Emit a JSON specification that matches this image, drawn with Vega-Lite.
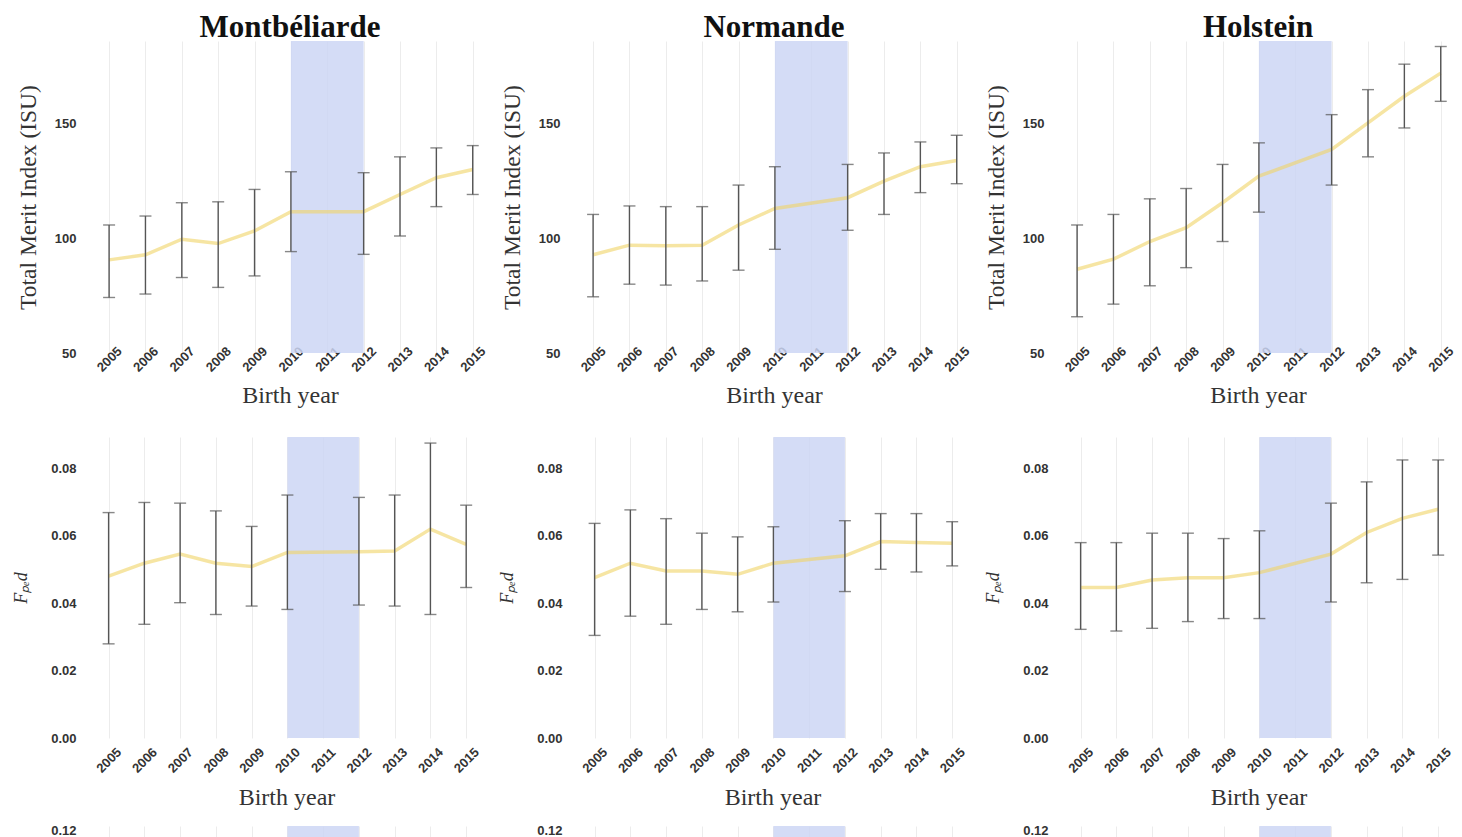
{
  "$schema": "https://vega.github.io/schema/vega-lite/v6.json",
  "background": "white",
  "padding": {"left": 12, "top": 12, "right": 0, "bottom": 0},
  "datasets": {
    "band": [{"year": 2010, "year_end": 2012}],
    "merit": [
      {"breed": "Montbéliarde", "year": 2005, "mean": 90.6, "lower": 74.2, "upper": 105.8},
      {"breed": "Montbéliarde", "year": 2006, "mean": 92.8, "lower": 75.7, "upper": 109.7},
      {"breed": "Montbéliarde", "year": 2007, "mean": 99.6, "lower": 82.9, "upper": 115.5},
      {"breed": "Montbéliarde", "year": 2008, "mean": 97.7, "lower": 78.6, "upper": 115.9},
      {"breed": "Montbéliarde", "year": 2009, "mean": 103.2, "lower": 83.6, "upper": 121.3},
      {"breed": "Montbéliarde", "year": 2010, "mean": 111.6, "lower": 94.2, "upper": 129.0},
      {"breed": "Montbéliarde", "year": 2012, "mean": 111.6, "lower": 93.0, "upper": 128.6},
      {"breed": "Montbéliarde", "year": 2013, "mean": 119.1, "lower": 101.0, "upper": 135.5},
      {"breed": "Montbéliarde", "year": 2014, "mean": 126.4, "lower": 113.8, "upper": 139.4},
      {"breed": "Montbéliarde", "year": 2015, "mean": 130.0, "lower": 119.1, "upper": 140.4},
      {"breed": "Normande", "year": 2005, "mean": 92.8, "lower": 74.5, "upper": 110.4},
      {"breed": "Normande", "year": 2006, "mean": 97.0, "lower": 80.0, "upper": 114.1},
      {"breed": "Normande", "year": 2007, "mean": 96.8, "lower": 79.6, "upper": 113.8},
      {"breed": "Normande", "year": 2008, "mean": 97.0, "lower": 81.4, "upper": 113.8},
      {"breed": "Normande", "year": 2009, "mean": 105.8, "lower": 86.1, "upper": 123.2},
      {"breed": "Normande", "year": 2010, "mean": 113.0, "lower": 95.2, "upper": 131.2},
      {"breed": "Normande", "year": 2012, "mean": 117.7, "lower": 103.5, "upper": 132.2},
      {"breed": "Normande", "year": 2013, "mean": 124.9, "lower": 110.4, "upper": 137.2},
      {"breed": "Normande", "year": 2014, "mean": 131.2, "lower": 119.9, "upper": 142.0},
      {"breed": "Normande", "year": 2015, "mean": 133.9, "lower": 123.8, "upper": 144.9},
      {"breed": "Holstein", "year": 2005, "mean": 86.5, "lower": 65.8, "upper": 105.8},
      {"breed": "Holstein", "year": 2006, "mean": 90.9, "lower": 71.3, "upper": 110.4},
      {"breed": "Holstein", "year": 2007, "mean": 98.6, "lower": 79.3, "upper": 117.2},
      {"breed": "Holstein", "year": 2008, "mean": 104.6, "lower": 87.2, "upper": 121.7},
      {"breed": "Holstein", "year": 2009, "mean": 115.5, "lower": 98.6, "upper": 132.2},
      {"breed": "Holstein", "year": 2010, "mean": 127.1, "lower": 111.4, "upper": 141.6},
      {"breed": "Holstein", "year": 2012, "mean": 138.7, "lower": 123.2, "upper": 153.9},
      {"breed": "Holstein", "year": 2013, "mean": 150.3, "lower": 135.5, "upper": 164.8},
      {"breed": "Holstein", "year": 2014, "mean": 161.9, "lower": 148.1, "upper": 175.9},
      {"breed": "Holstein", "year": 2015, "mean": 172.0, "lower": 159.7, "upper": 183.6}
    ],
    "fped": [
      {"breed": "Montbéliarde", "year": 2005, "mean": 0.048, "lower": 0.0279, "upper": 0.0668},
      {"breed": "Montbéliarde", "year": 2006, "mean": 0.0518, "lower": 0.0337, "upper": 0.0698},
      {"breed": "Montbéliarde", "year": 2007, "mean": 0.0545, "lower": 0.0401, "upper": 0.0696},
      {"breed": "Montbéliarde", "year": 2008, "mean": 0.0518, "lower": 0.0366, "upper": 0.0673},
      {"breed": "Montbéliarde", "year": 2009, "mean": 0.0508, "lower": 0.0391, "upper": 0.0627},
      {"breed": "Montbéliarde", "year": 2010, "mean": 0.055, "lower": 0.0381, "upper": 0.072},
      {"breed": "Montbéliarde", "year": 2012, "mean": 0.0552, "lower": 0.0394, "upper": 0.0713},
      {"breed": "Montbéliarde", "year": 2013, "mean": 0.0554, "lower": 0.0391, "upper": 0.072},
      {"breed": "Montbéliarde", "year": 2014, "mean": 0.0619, "lower": 0.0366, "upper": 0.0874},
      {"breed": "Montbéliarde", "year": 2015, "mean": 0.0574, "lower": 0.0446, "upper": 0.069},
      {"breed": "Normande", "year": 2005, "mean": 0.0475, "lower": 0.0304, "upper": 0.0636},
      {"breed": "Normande", "year": 2006, "mean": 0.0518, "lower": 0.0361, "upper": 0.0676},
      {"breed": "Normande", "year": 2007, "mean": 0.0495, "lower": 0.0337, "upper": 0.065},
      {"breed": "Normande", "year": 2008, "mean": 0.0495, "lower": 0.0381, "upper": 0.0607},
      {"breed": "Normande", "year": 2009, "mean": 0.0485, "lower": 0.0374, "upper": 0.0596},
      {"breed": "Normande", "year": 2010, "mean": 0.0518, "lower": 0.0403, "upper": 0.0626},
      {"breed": "Normande", "year": 2012, "mean": 0.054, "lower": 0.0434, "upper": 0.0644},
      {"breed": "Normande", "year": 2013, "mean": 0.0582, "lower": 0.05, "upper": 0.0665},
      {"breed": "Normande", "year": 2014, "mean": 0.0579, "lower": 0.0492, "upper": 0.0665},
      {"breed": "Normande", "year": 2015, "mean": 0.0577, "lower": 0.051, "upper": 0.0641},
      {"breed": "Holstein", "year": 2005, "mean": 0.0446, "lower": 0.0322, "upper": 0.0579},
      {"breed": "Holstein", "year": 2006, "mean": 0.0446, "lower": 0.0317, "upper": 0.0579},
      {"breed": "Holstein", "year": 2007, "mean": 0.0468, "lower": 0.0325, "upper": 0.0607},
      {"breed": "Holstein", "year": 2008, "mean": 0.0475, "lower": 0.0345, "upper": 0.0607},
      {"breed": "Holstein", "year": 2009, "mean": 0.0475, "lower": 0.0354, "upper": 0.0591},
      {"breed": "Holstein", "year": 2010, "mean": 0.049, "lower": 0.0354, "upper": 0.0614},
      {"breed": "Holstein", "year": 2012, "mean": 0.0545, "lower": 0.0403, "upper": 0.0696},
      {"breed": "Holstein", "year": 2013, "mean": 0.0609, "lower": 0.046, "upper": 0.0759},
      {"breed": "Holstein", "year": 2014, "mean": 0.0651, "lower": 0.047, "upper": 0.0824},
      {"breed": "Holstein", "year": 2015, "mean": 0.0678, "lower": 0.0542, "upper": 0.0824}
    ]
  },
  "spacing": 29,
  "vconcat": [
    {
      "spacing": 0,
      "hconcat": [
        {
          "width": 420, "height": 312, "title": "Montbéliarde",
          "encoding": {"x": {"field": "year", "type": "quantitative", "title": "Birth year", "scale": {"domain": [2004.2, 2015.75], "nice": false, "zero": false}, "axis": {"values": [2005,2006,2007,2008,2009,2010,2011,2012,2013,2014,2015], "format": "d", "labelAngle": -45, "labelAlign": "center", "labelBaseline": "middle", "labelPadding": 6, "labelFlush": false, "labelOverlap": false, "gridColor": "#ececec", "titlePadding": 9}}},
          "layer": [
            {"data": {"name": "band"}, "mark": {"type": "rect", "color": "#cdd6f4", "opacity": 0.85}, "encoding": {"x2": {"field": "year_end"}, "y": {"datum": 50, "type": "quantitative", "title": "Total Merit Index (ISU)", "scale": {"domain": [50, 186], "nice": false, "zero": false}, "axis": {"values": [50,75,100,125,150,175], "format": "d", "labelExpr": "datum.value % 50 === 0 ? datum.label : ''", "gridColor": {"condition": {"test": "datum.value % 50 === 0", "value": "#e0e0e0"}, "value": "#efefef"}, "titlePadding": 14, "titleFontSize": 23.5}}, "y2": {"datum": 186}}},
            {"data": {"name": "merit"}, "transform": [{"filter": "datum.breed === 'Montbéliarde'"}], "mark": {"type": "line", "color": "#f0d466", "strokeWidth": 3.5, "opacity": 0.6}, "encoding": {"y": {"field": "mean", "type": "quantitative", "title": "Total Merit Index (ISU)", "scale": {"domain": [50, 186], "nice": false, "zero": false}}}},
            {"data": {"name": "merit"}, "transform": [{"filter": "datum.breed === 'Montbéliarde'"}], "mark": {"type": "errorbar", "color": "#555555", "thickness": 1.4, "ticks": {"size": 12, "thickness": 1.4, "color": "#555555"}}, "encoding": {"y": {"field": "lower", "type": "quantitative", "title": "Total Merit Index (ISU)", "scale": {"domain": [50, 186], "nice": false, "zero": false}}, "y2": {"field": "upper"}}}
          ]
        },
        {
          "width": 420, "height": 312, "title": "Normande",
          "encoding": {"x": {"field": "year", "type": "quantitative", "title": "Birth year", "scale": {"domain": [2004.2, 2015.75], "nice": false, "zero": false}, "axis": {"values": [2005,2006,2007,2008,2009,2010,2011,2012,2013,2014,2015], "format": "d", "labelAngle": -45, "labelAlign": "center", "labelBaseline": "middle", "labelPadding": 6, "labelFlush": false, "labelOverlap": false, "gridColor": "#ececec", "titlePadding": 9}}},
          "layer": [
            {"data": {"name": "band"}, "mark": {"type": "rect", "color": "#cdd6f4", "opacity": 0.85}, "encoding": {"x2": {"field": "year_end"}, "y": {"datum": 50, "type": "quantitative", "title": "Total Merit Index (ISU)", "scale": {"domain": [50, 186], "nice": false, "zero": false}, "axis": {"values": [50,75,100,125,150,175], "format": "d", "labelExpr": "datum.value % 50 === 0 ? datum.label : ''", "gridColor": {"condition": {"test": "datum.value % 50 === 0", "value": "#e0e0e0"}, "value": "#efefef"}, "titlePadding": 14, "titleFontSize": 23.5}}, "y2": {"datum": 186}}},
            {"data": {"name": "merit"}, "transform": [{"filter": "datum.breed === 'Normande'"}], "mark": {"type": "line", "color": "#f0d466", "strokeWidth": 3.5, "opacity": 0.6}, "encoding": {"y": {"field": "mean", "type": "quantitative", "title": "Total Merit Index (ISU)", "scale": {"domain": [50, 186], "nice": false, "zero": false}}}},
            {"data": {"name": "merit"}, "transform": [{"filter": "datum.breed === 'Normande'"}], "mark": {"type": "errorbar", "color": "#555555", "thickness": 1.4, "ticks": {"size": 12, "thickness": 1.4, "color": "#555555"}}, "encoding": {"y": {"field": "lower", "type": "quantitative", "title": "Total Merit Index (ISU)", "scale": {"domain": [50, 186], "nice": false, "zero": false}}, "y2": {"field": "upper"}}}
          ]
        },
        {
          "width": 420, "height": 312, "title": "Holstein",
          "encoding": {"x": {"field": "year", "type": "quantitative", "title": "Birth year", "scale": {"domain": [2004.2, 2015.75], "nice": false, "zero": false}, "axis": {"values": [2005,2006,2007,2008,2009,2010,2011,2012,2013,2014,2015], "format": "d", "labelAngle": -45, "labelAlign": "center", "labelBaseline": "middle", "labelPadding": 6, "labelFlush": false, "labelOverlap": false, "gridColor": "#ececec", "titlePadding": 9}}},
          "layer": [
            {"data": {"name": "band"}, "mark": {"type": "rect", "color": "#cdd6f4", "opacity": 0.85}, "encoding": {"x2": {"field": "year_end"}, "y": {"datum": 50, "type": "quantitative", "title": "Total Merit Index (ISU)", "scale": {"domain": [50, 186], "nice": false, "zero": false}, "axis": {"values": [50,75,100,125,150,175], "format": "d", "labelExpr": "datum.value % 50 === 0 ? datum.label : ''", "gridColor": {"condition": {"test": "datum.value % 50 === 0", "value": "#e0e0e0"}, "value": "#efefef"}, "titlePadding": 14, "titleFontSize": 23.5}}, "y2": {"datum": 186}}},
            {"data": {"name": "merit"}, "transform": [{"filter": "datum.breed === 'Holstein'"}], "mark": {"type": "line", "color": "#f0d466", "strokeWidth": 3.5, "opacity": 0.6}, "encoding": {"y": {"field": "mean", "type": "quantitative", "title": "Total Merit Index (ISU)", "scale": {"domain": [50, 186], "nice": false, "zero": false}}}},
            {"data": {"name": "merit"}, "transform": [{"filter": "datum.breed === 'Holstein'"}], "mark": {"type": "errorbar", "color": "#555555", "thickness": 1.4, "ticks": {"size": 12, "thickness": 1.4, "color": "#555555"}}, "encoding": {"y": {"field": "lower", "type": "quantitative", "title": "Total Merit Index (ISU)", "scale": {"domain": [50, 186], "nice": false, "zero": false}}, "y2": {"field": "upper"}}}
          ]
        }
      ]
    },
    {
      "spacing": 14,
      "vconcat": [
        {
          "spacing": 5,
          "hconcat": [
            {
              "width": 413, "height": 301,
              "encoding": {"x": {"field": "year", "type": "quantitative", "title": "Birth year", "scale": {"domain": [2004.2, 2015.75], "nice": false, "zero": false}, "axis": {"values": [2005,2006,2007,2008,2009,2010,2011,2012,2013,2014,2015], "format": "d", "labelAngle": -45, "labelAlign": "center", "labelBaseline": "middle", "labelPadding": 22, "labelFlush": false, "labelOverlap": false, "gridColor": "#ececec", "titlePadding": 10}}},
              "layer": [
                {"data": {"name": "band"}, "mark": {"type": "rect", "color": "#cdd6f4", "opacity": 0.85}, "encoding": {"x2": {"field": "year_end"}, "y": {"datum": 0, "type": "quantitative", "title": "Fₚₑd", "scale": {"domain": [0, 0.0892], "nice": false, "zero": false}, "axis": {"values": [0,0.01,0.02,0.03,0.04,0.05,0.06,0.07,0.08], "format": ".2f", "labelExpr": "round(datum.value*100) % 2 === 0 ? datum.label : ''", "gridColor": {"condition": {"test": "round(datum.value*100) % 2 === 0", "value": "#e0e0e0"}, "value": "#efefef"}, "titleFontStyle": "italic", "titleFontSize": 18, "titlePadding": 20}}, "y2": {"datum": 0.0892}}},
                {"data": {"name": "fped"}, "transform": [{"filter": "datum.breed === 'Montbéliarde'"}], "mark": {"type": "line", "color": "#f0d466", "strokeWidth": 3.5, "opacity": 0.6}, "encoding": {"y": {"field": "mean", "type": "quantitative", "title": "Fₚₑd", "scale": {"domain": [0, 0.0892], "nice": false, "zero": false}}}},
                {"data": {"name": "fped"}, "transform": [{"filter": "datum.breed === 'Montbéliarde'"}], "mark": {"type": "errorbar", "color": "#555555", "thickness": 1.4, "ticks": {"size": 12, "thickness": 1.4, "color": "#555555"}}, "encoding": {"y": {"field": "lower", "type": "quantitative", "title": "Fₚₑd", "scale": {"domain": [0, 0.0892], "nice": false, "zero": false}}, "y2": {"field": "upper"}}}
              ]
            },
            {
              "width": 413, "height": 301,
              "encoding": {"x": {"field": "year", "type": "quantitative", "title": "Birth year", "scale": {"domain": [2004.2, 2015.75], "nice": false, "zero": false}, "axis": {"values": [2005,2006,2007,2008,2009,2010,2011,2012,2013,2014,2015], "format": "d", "labelAngle": -45, "labelAlign": "center", "labelBaseline": "middle", "labelPadding": 22, "labelFlush": false, "labelOverlap": false, "gridColor": "#ececec", "titlePadding": 10}}},
              "layer": [
                {"data": {"name": "band"}, "mark": {"type": "rect", "color": "#cdd6f4", "opacity": 0.85}, "encoding": {"x2": {"field": "year_end"}, "y": {"datum": 0, "type": "quantitative", "title": "Fₚₑd", "scale": {"domain": [0, 0.0892], "nice": false, "zero": false}, "axis": {"values": [0,0.01,0.02,0.03,0.04,0.05,0.06,0.07,0.08], "format": ".2f", "labelExpr": "round(datum.value*100) % 2 === 0 ? datum.label : ''", "gridColor": {"condition": {"test": "round(datum.value*100) % 2 === 0", "value": "#e0e0e0"}, "value": "#efefef"}, "titleFontStyle": "italic", "titleFontSize": 18, "titlePadding": 20}}, "y2": {"datum": 0.0892}}},
                {"data": {"name": "fped"}, "transform": [{"filter": "datum.breed === 'Normande'"}], "mark": {"type": "line", "color": "#f0d466", "strokeWidth": 3.5, "opacity": 0.6}, "encoding": {"y": {"field": "mean", "type": "quantitative", "title": "Fₚₑd", "scale": {"domain": [0, 0.0892], "nice": false, "zero": false}}}},
                {"data": {"name": "fped"}, "transform": [{"filter": "datum.breed === 'Normande'"}], "mark": {"type": "errorbar", "color": "#555555", "thickness": 1.4, "ticks": {"size": 12, "thickness": 1.4, "color": "#555555"}}, "encoding": {"y": {"field": "lower", "type": "quantitative", "title": "Fₚₑd", "scale": {"domain": [0, 0.0892], "nice": false, "zero": false}}, "y2": {"field": "upper"}}}
              ]
            },
            {
              "width": 413, "height": 301,
              "encoding": {"x": {"field": "year", "type": "quantitative", "title": "Birth year", "scale": {"domain": [2004.2, 2015.75], "nice": false, "zero": false}, "axis": {"values": [2005,2006,2007,2008,2009,2010,2011,2012,2013,2014,2015], "format": "d", "labelAngle": -45, "labelAlign": "center", "labelBaseline": "middle", "labelPadding": 22, "labelFlush": false, "labelOverlap": false, "gridColor": "#ececec", "titlePadding": 10}}},
              "layer": [
                {"data": {"name": "band"}, "mark": {"type": "rect", "color": "#cdd6f4", "opacity": 0.85}, "encoding": {"x2": {"field": "year_end"}, "y": {"datum": 0, "type": "quantitative", "title": "Fₚₑd", "scale": {"domain": [0, 0.0892], "nice": false, "zero": false}, "axis": {"values": [0,0.01,0.02,0.03,0.04,0.05,0.06,0.07,0.08], "format": ".2f", "labelExpr": "round(datum.value*100) % 2 === 0 ? datum.label : ''", "gridColor": {"condition": {"test": "round(datum.value*100) % 2 === 0", "value": "#e0e0e0"}, "value": "#efefef"}, "titleFontStyle": "italic", "titleFontSize": 18, "titlePadding": 20}}, "y2": {"datum": 0.0892}}},
                {"data": {"name": "fped"}, "transform": [{"filter": "datum.breed === 'Holstein'"}], "mark": {"type": "line", "color": "#f0d466", "strokeWidth": 3.5, "opacity": 0.6}, "encoding": {"y": {"field": "mean", "type": "quantitative", "title": "Fₚₑd", "scale": {"domain": [0, 0.0892], "nice": false, "zero": false}}}},
                {"data": {"name": "fped"}, "transform": [{"filter": "datum.breed === 'Holstein'"}], "mark": {"type": "errorbar", "color": "#555555", "thickness": 1.4, "ticks": {"size": 12, "thickness": 1.4, "color": "#555555"}}, "encoding": {"y": {"field": "lower", "type": "quantitative", "title": "Fₚₑd", "scale": {"domain": [0, 0.0892], "nice": false, "zero": false}}, "y2": {"field": "upper"}}}
              ]
            }
          ]
        },
        {
          "spacing": 43,
          "hconcat": [
            {
              "width": 413, "height": 300,
              "data": {"name": "band"},
              "mark": {"type": "rect", "color": "#cdd6f4", "opacity": 0.85},
              "encoding": {
                "x": {"field": "year", "type": "quantitative", "title": "Birth year", "scale": {"domain": [2004.2, 2015.75], "nice": false, "zero": false}, "axis": {"values": [2005,2006,2007,2008,2009,2010,2011,2012,2013,2014,2015], "format": "d", "labelAngle": -45, "labelAlign": "center", "labelBaseline": "middle", "labelPadding": 22, "labelFlush": false, "labelOverlap": false, "gridColor": "#ececec", "titlePadding": 10}},
                "x2": {"field": "year_end"},
                "y": {"datum": 0, "type": "quantitative", "title": " ", "scale": {"domain": [0, 0.122], "nice": false, "zero": false}, "axis": {"values": [0,0.02,0.04,0.06,0.08,0.1,0.12], "format": ".2f", "labelExpr": "round(datum.value*100) % 4 === 0 ? datum.label : ''", "gridColor": {"condition": {"test": "round(datum.value*100) % 4 === 0", "value": "#e0e0e0"}, "value": "#efefef"}, "titleFontSize": 18, "titlePadding": 20}},
                "y2": {"datum": 0.122}
              }
            },
            {
              "width": 413, "height": 300,
              "data": {"name": "band"},
              "mark": {"type": "rect", "color": "#cdd6f4", "opacity": 0.85},
              "encoding": {
                "x": {"field": "year", "type": "quantitative", "title": "Birth year", "scale": {"domain": [2004.2, 2015.75], "nice": false, "zero": false}, "axis": {"values": [2005,2006,2007,2008,2009,2010,2011,2012,2013,2014,2015], "format": "d", "labelAngle": -45, "labelAlign": "center", "labelBaseline": "middle", "labelPadding": 22, "labelFlush": false, "labelOverlap": false, "gridColor": "#ececec", "titlePadding": 10}},
                "x2": {"field": "year_end"},
                "y": {"datum": 0, "type": "quantitative", "title": " ", "scale": {"domain": [0, 0.122], "nice": false, "zero": false}, "axis": {"values": [0,0.02,0.04,0.06,0.08,0.1,0.12], "format": ".2f", "labelExpr": "round(datum.value*100) % 4 === 0 ? datum.label : ''", "gridColor": {"condition": {"test": "round(datum.value*100) % 4 === 0", "value": "#e0e0e0"}, "value": "#efefef"}, "titleFontSize": 18, "titlePadding": 20}},
                "y2": {"datum": 0.122}
              }
            },
            {
              "width": 413, "height": 300,
              "data": {"name": "band"},
              "mark": {"type": "rect", "color": "#cdd6f4", "opacity": 0.85},
              "encoding": {
                "x": {"field": "year", "type": "quantitative", "title": "Birth year", "scale": {"domain": [2004.2, 2015.75], "nice": false, "zero": false}, "axis": {"values": [2005,2006,2007,2008,2009,2010,2011,2012,2013,2014,2015], "format": "d", "labelAngle": -45, "labelAlign": "center", "labelBaseline": "middle", "labelPadding": 22, "labelFlush": false, "labelOverlap": false, "gridColor": "#ececec", "titlePadding": 10}},
                "x2": {"field": "year_end"},
                "y": {"datum": 0, "type": "quantitative", "title": " ", "scale": {"domain": [0, 0.122], "nice": false, "zero": false}, "axis": {"values": [0,0.02,0.04,0.06,0.08,0.1,0.12], "format": ".2f", "labelExpr": "round(datum.value*100) % 4 === 0 ? datum.label : ''", "gridColor": {"condition": {"test": "round(datum.value*100) % 4 === 0", "value": "#e0e0e0"}, "value": "#efefef"}, "titleFontSize": 18, "titlePadding": 20}},
                "y2": {"datum": 0.122}
              }
            }
          ]
        }
      ]
    }
  ],
  "config": {
    "view": {"stroke": null},
    "axis": {"domain": false, "ticks": false, "labelFont": "Liberation Sans", "labelFontWeight": "bold", "labelFontSize": 13, "labelColor": "#333333", "titleFont": "Liberation Serif", "titleFontWeight": "normal", "titleFontSize": 24, "titleColor": "#333333", "labelPadding": 4, "titlePadding": 10},
    "title": {"font": "Liberation Serif", "fontSize": 31, "fontWeight": "bold", "color": "#111111", "offset": -3, "anchor": "middle"}
  }
}
